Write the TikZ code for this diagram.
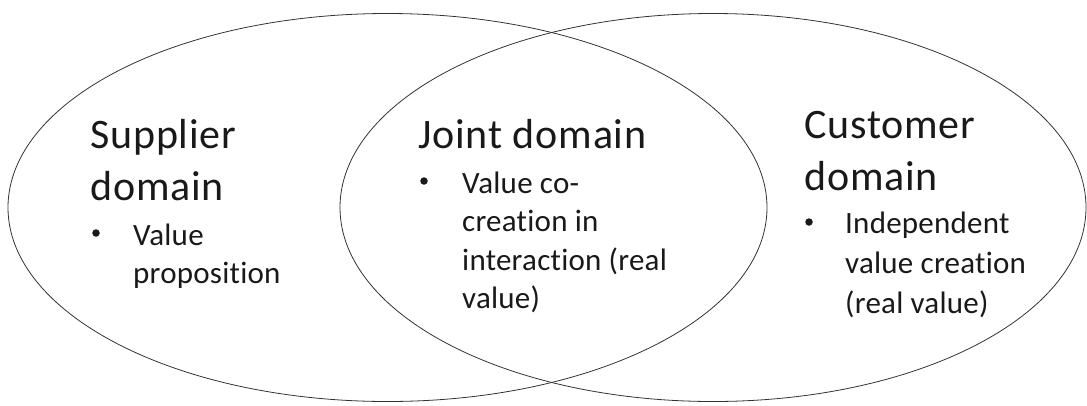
\documentclass[tikz,border=0pt]{standalone}
\usepackage{fontspec}
\setmainfont{Carlito}[Ligatures={NoCommon}]
\newfontfamily\headfont{Carlito}[Ligatures={NoCommon},LetterSpace=2]
\newfontfamily\bodyfont{Carlito}[Ligatures={NoCommon},LetterSpace=0.8]
\begin{document}
\begin{tikzpicture}[x=1pt,y=-1pt,
  ring/.style={draw=black!80,line width=0.8pt},
  head/.style={anchor=base west,inner sep=0pt,font=\headfont\fontsize{42}{50}\selectfont,text=black!90},
  body/.style={anchor=base west,inner sep=0pt,font=\bodyfont\fontsize{31}{38}\selectfont,text=black!90},
  bullet/.style={circle,fill=black!90,inner sep=0pt,minimum size=7.5pt}]
\useasboundingbox (0,0) rectangle (1087,405);
% the two overlapping domains
\draw[ring] (387.5,207.5) ellipse [x radius=379.5pt, y radius=194pt];
\draw[ring] (713,207.5) ellipse [x radius=373pt, y radius=194pt];
% supplier side
\node[head] (s1) at (90,148) {Supplier};
\node[head] (s2) at (90,200) {domain};
\node[bullet] (sb) at (96,233) {};
\node[body] (s3) at (133,245) {Value};
\node[body] (s4) at (133,283) {proposition};
% shared part
\node[head] (j1) at (418,148) {Joint domain};
\node[bullet] (jb) at (424,181) {};
\node[body] (j2) at (462,193) {Value co-};
\node[body] (j3) at (462,231) {creation in};
\node[body] (j4) at (462,270) {interaction (real};
\node[body] (j5) at (462,308) {value)};
% customer side
\node[head] (c1) at (804,138) {Customer};
\node[head] (c2) at (804,190) {domain};
\node[bullet] (cb) at (809,222) {};
\node[body] (c3) at (845,233) {Independent};
\node[body] (c4) at (845,273) {value creation};
\node[body] (c5) at (845,313) {(real value)};
\end{tikzpicture}
\end{document}
